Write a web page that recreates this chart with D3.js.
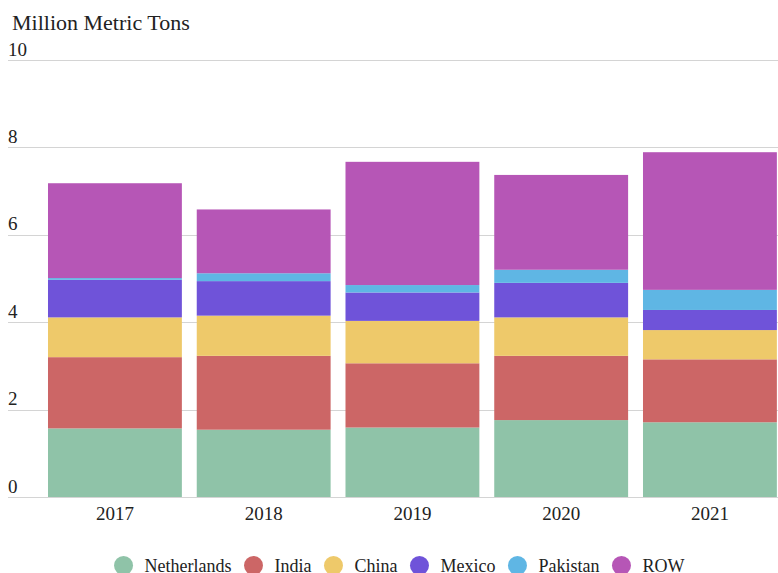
<!DOCTYPE html>
<html>
<head>
<meta charset="utf-8">
<script src="https://cdn.jsdelivr.net/npm/d3@7"></script>
<style>
  html, body { margin: 0; padding: 0; background: #fff; }
  svg { display: block; }
  text { font-family: "Liberation Serif", "Times New Roman", serif; fill: #222; }
</style>
</head>
<body>
<svg id="chart" width="778" height="573"></svg>
<script>
const years = ["2017", "2018", "2019", "2020", "2021"];
const seriesNames = ["Netherlands", "India", "China", "Mexico", "Pakistan", "ROW"];
const netherlands = [1.57, 1.54, 1.59, 1.76, 1.71];
const india = [1.63, 1.69, 1.47, 1.47, 1.44];
const china = [0.91, 0.92, 0.97, 0.88, 0.67];
const mexico = [0.86, 0.79, 0.65, 0.79, 0.46];
const pakistan = [0.04, 0.18, 0.17, 0.30, 0.46];
const rowValues = [2.17, 1.46, 2.82, 2.17, 3.15];
const yTicks = [0, 2, 4, 6, 8, 10];
const colors = ["#8fc3a8", "#cc6666", "#eec96a", "#6f53d9", "#5fb6e4", "#b656b6"];
const title = "Million Metric Tons";

const seriesValues = [netherlands, india, china, mexico, pakistan, rowValues];
const table = years.map((y, i) => {
  const o = { year: y };
  seriesNames.forEach((s, j) => { o[s] = seriesValues[j][i]; });
  return o;
});

const svg = d3.select("#chart");

const x = d3.scaleBand().domain(years).range([40.56, 784.3]).paddingInner(0.1).paddingOuter(0.05);
const y = d3.scaleLinear().domain([0, 10]).range([497, 60]);
const color = d3.scaleOrdinal().domain(seriesNames).range(colors);

// title
svg.append("text").attr("x", 12).attr("y", 30).attr("font-size", 22).text(title);

// gridlines + tick labels
const grid = svg.append("g");
grid.selectAll("line").data(yTicks).join("line")
  .attr("x1", 8).attr("x2", 778)
  .attr("y1", d => Math.round(y(d)) + 0.5).attr("y2", d => Math.round(y(d)) + 0.5)
  .attr("stroke", "#d4d4d4").attr("stroke-width", 1);
grid.selectAll("text").data(yTicks).join("text")
  .attr("x", 8).attr("y", d => y(d) - 4.5)
  .attr("font-size", 19).text(d => d);

// stacked bars
const stack = d3.stack().keys(seriesNames)(table);
svg.append("g").selectAll("g").data(stack).join("g")
  .attr("fill", d => color(d.key))
  .selectAll("rect").data(d => d).join("rect")
  .attr("x", d => x(d.data.year))
  .attr("width", x.bandwidth())
  .attr("y", d => y(d[1]))
  .attr("height", d => y(d[0]) - y(d[1]));

// x axis labels
const xAxis = d3.axisBottom(x).tickSize(0).tickPadding(0);
const xg = svg.append("g").attr("transform", "translate(0,506)").call(xAxis);
xg.select(".domain").remove();
xg.selectAll("text").attr("font-size", 19).attr("font-family", "Liberation Serif, serif").attr("fill", "#222").attr("dy", "0.71em");

// legend
const legend = svg.append("g");
const items = legend.selectAll("g").data(seriesNames).join("g");
items.append("circle").attr("r", 9.5).attr("cy", 0).attr("fill", d => color(d));
items.append("text").attr("x", 21).attr("y", 6.5).attr("font-size", 18).text(d => d);
let cx = 0;
items.each(function () {
  const g = d3.select(this);
  g.attr("transform", `translate(${cx},0)`);
  const w = g.select("text").node().getComputedTextLength();
  cx += 21 + w + 22;
});
const totalW = cx - 22 + 9.5;
legend.attr("transform", `translate(${404 - (totalW - 9.5) / 2},565.5)`);
</script>
</body>
</html>
